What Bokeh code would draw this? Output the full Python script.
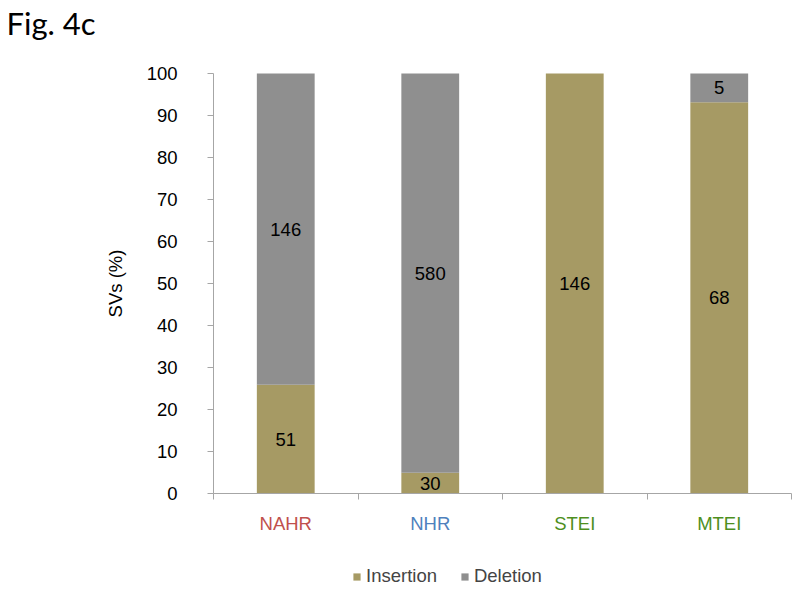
from bokeh.plotting import figure
from bokeh.models import Range1d, FixedTicker, Label, Legend, LegendItem, ColumnDataSource, LabelSet
from bokeh.core.properties import value
from bokeh.embed import file_html
from bokeh.resources import INLINE

categories = ["NAHR", "NHR", "STEI", "MTEI"]
cat_colors = ["#C0504D", "#4F81BD", "#4E8F1E", "#4E8F1E"]
insertion = [51, 30, 146, 68]
deletion = [146, 580, 0, 5]
y_ticks = list(range(0, 101, 10))

x = [i + 0.5 for i in range(len(categories))]
tot = [a + b for a, b in zip(insertion, deletion)]
ins_pct = [a / t * 100 for a, t in zip(insertion, tot)]
del_pct = [b / t * 100 for b, t in zip(deletion, tot)]

src = ColumnDataSource(dict(x=x, ins=ins_pct, dele=del_pct))

FS = "18.5px"
W, H = 800, 592
X0, Y0 = 213, 493          # screen position of data origin
SX, SY = 144.5, 4.2        # pixels per data unit
p = figure(width=W, height=H, output_backend="svg", toolbar_location=None,
           x_range=Range1d(-X0 / SX, (W - X0) / SX),
           y_range=Range1d(-(H - Y0) / SY, Y0 / SY))
p.min_border = 0
p.outline_line_color = None
p.grid.visible = False
p.background_fill_color = "white"

rs = p.vbar_stack(["ins", "dele"], x="x", width=0.4, source=src,
                  color=["#A69A64", "#8F8F8F"], line_color=None)

# value labels
lab_x, lab_y, lab_t = [], [], []
for xi, a, b, ip, dp in zip(x, insertion, deletion, ins_pct, del_pct):
    if a > 0:
        lab_x.append(xi); lab_y.append(ip / 2); lab_t.append(str(a))
    if b > 0:
        lab_x.append(xi); lab_y.append(ip + dp / 2); lab_t.append(str(b))
ls = LabelSet(x="x", y="y", text="t", source=ColumnDataSource(dict(x=lab_x, y=lab_y, t=lab_t)),
              text_align="center", text_baseline="middle", text_font=value("Liberation Sans"),
              text_font_size=value(FS), text_color="#000000")
p.add_layout(ls)

axis_col = "#A6A6A6"
p.yaxis.fixed_location = 0
p.yaxis.bounds = (0, 100)
p.yaxis.ticker = FixedTicker(ticks=y_ticks)
p.yaxis.axis_line_color = axis_col
p.yaxis.major_tick_line_color = axis_col
p.yaxis.major_tick_out = 6
p.yaxis.major_tick_in = 0
p.yaxis.minor_tick_line_color = None
p.yaxis.major_label_standoff = 30
p.yaxis.major_label_text_font = "Liberation Sans"
p.yaxis.major_label_text_font_size = FS
p.yaxis.major_label_text_color = "#000000"
p.yaxis.axis_label = "SVs (%)"
p.yaxis.axis_label_text_font = "Liberation Sans"
p.yaxis.axis_label_text_font_size = FS
p.yaxis.axis_label_text_font_style = "normal"
p.yaxis.axis_label_text_color = "#000000"
p.yaxis.axis_label_standoff = 18

p.xaxis.fixed_location = 0
p.xaxis.bounds = (0, 4)
p.xaxis.ticker = FixedTicker(ticks=[0, 1, 2, 3, 4])
p.xaxis.major_label_overrides = {0: " ", 1: " ", 2: " ", 3: " ", 4: " "}
p.xaxis.axis_line_color = axis_col
p.xaxis.major_tick_line_color = axis_col
p.xaxis.major_tick_out = 6
p.xaxis.major_tick_in = 0
p.xaxis.minor_tick_line_color = None

for xi, c, col in zip(x, categories, cat_colors):
    p.add_layout(Label(x=xi, y=(Y0 - 523) / SY, text=c, text_align="center", text_baseline="middle",
                       text_font="Liberation Sans", text_font_size=FS, text_color=col))

p.add_layout(Label(x=(6 - X0) / SX, y=(Y0 - 22) / SY, text="Fig. 4c", text_align="left",
                   text_baseline="middle", text_font="Lato", text_font_size="31px",
                   text_color="#000000"))

legend = Legend(items=[LegendItem(label="Insertion", renderers=[rs[0]]),
                       LegendItem(label="Deletion", renderers=[rs[1]])],
                orientation="horizontal", location=(352, 5))
legend.label_text_font = "Liberation Sans"
legend.label_text_font_size = FS
legend.glyph_width = 9
legend.glyph_height = 9
legend.label_height = 16
legend.label_standoff = 5
legend.spacing = 23
legend.padding = 0
legend.margin = 0
legend.border_line_color = None
legend.background_fill_alpha = 0
p.add_layout(legend)

open("out.html", "w").write(file_html(p, INLINE))
